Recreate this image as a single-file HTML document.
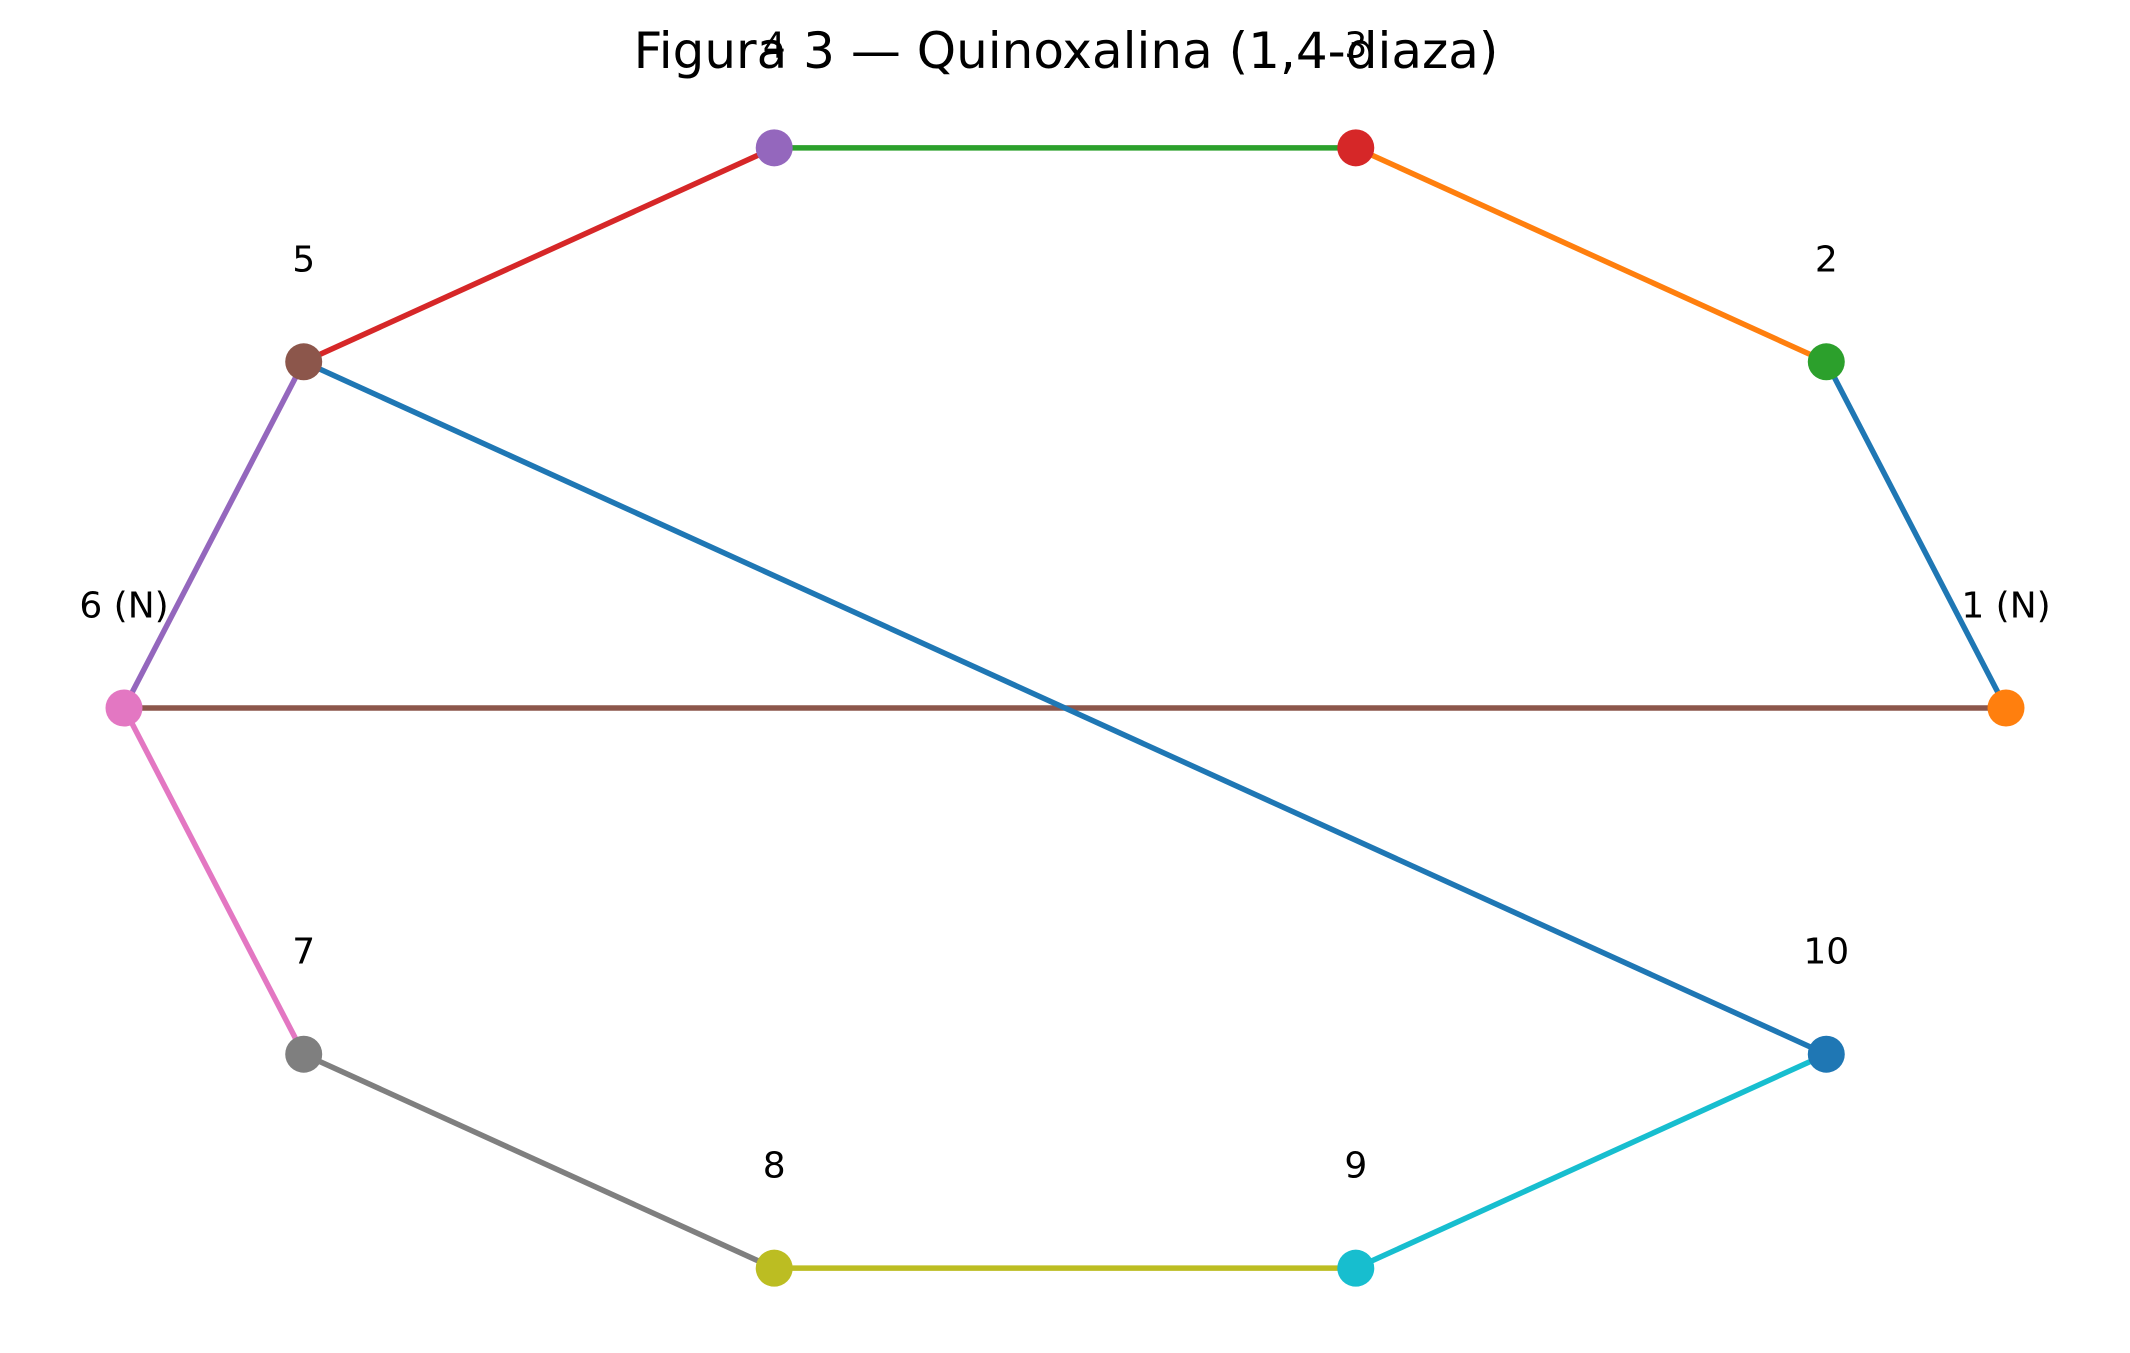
<!DOCTYPE html>
<html><head><meta charset="utf-8"><style>
html,body{margin:0;padding:0;background:#fff;}
svg{display:block;font-family:"DejaVu Sans","Liberation Sans",sans-serif;}
</style></head><body>
<svg id="chart" width="2130" height="1353" viewBox="0 0 2130 1353">
<rect width="2130" height="1353" fill="#fff"/>
<text x="1066" y="68" font-size="50" text-anchor="middle" fill="#000">Figura 3 — Quinoxalina (1,4-diaza)</text>
<g id="edges"></g>
<g id="nodes"></g>
<g id="labels"></g>
</svg>
<script>
const nodeLabels = ["1 (N)","2","3","4","5","6 (N)","7","8","9","10"];
const nodeAngles = [0,36,72,108,144,180,216,252,288,324];
const edgeFrom = [1,2,3,4,5,6,6,7,8,9,10];
const edgeTo   = [2,3,4,5,6,1,7,8,9,10,5];
const palette = ["#1f77b4","#ff7f0e","#2ca02c","#d62728","#9467bd","#8c564b","#e377c2","#7f7f7f","#bcbd22","#17becf"];

const cx = 1065, cy = 708, rx = 941, ry = 589;
function px(i){ return cx + rx*Math.cos(nodeAngles[i]*Math.PI/180); }
function py(i){ return cy - ry*Math.sin(nodeAngles[i]*Math.PI/180); }
const NS = "http://www.w3.org/2000/svg";
const eg = document.getElementById('edges'), ng = document.getElementById('nodes'), lg = document.getElementById('labels');

edgeFrom.forEach((a,k)=>{
  const b = edgeTo[k];
  const l = document.createElementNS(NS,'line');
  l.setAttribute('x1',px(a-1)); l.setAttribute('y1',py(a-1));
  l.setAttribute('x2',px(b-1)); l.setAttribute('y2',py(b-1));
  l.setAttribute('stroke',palette[k%10]); l.setAttribute('stroke-width','5.5');
  
  
  eg.appendChild(l);
});
nodeLabels.forEach((lab,i)=>{
  const c = document.createElementNS(NS,'circle');
  c.setAttribute('cx',px(i)); c.setAttribute('cy',py(i)); c.setAttribute('r','18.5');
  c.setAttribute('fill',palette[(i+1)%10]);
  
  
  ng.appendChild(c);
  const t = document.createElementNS(NS,'text');
  t.setAttribute('x',px(i)); t.setAttribute('y',py(i)-102);
  t.setAttribute('font-size','36'); t.setAttribute('text-anchor','middle');
  t.setAttribute('dominant-baseline','central');
  t.textContent = lab;
  
  
  lg.appendChild(t);
});
</script>
</body></html>
